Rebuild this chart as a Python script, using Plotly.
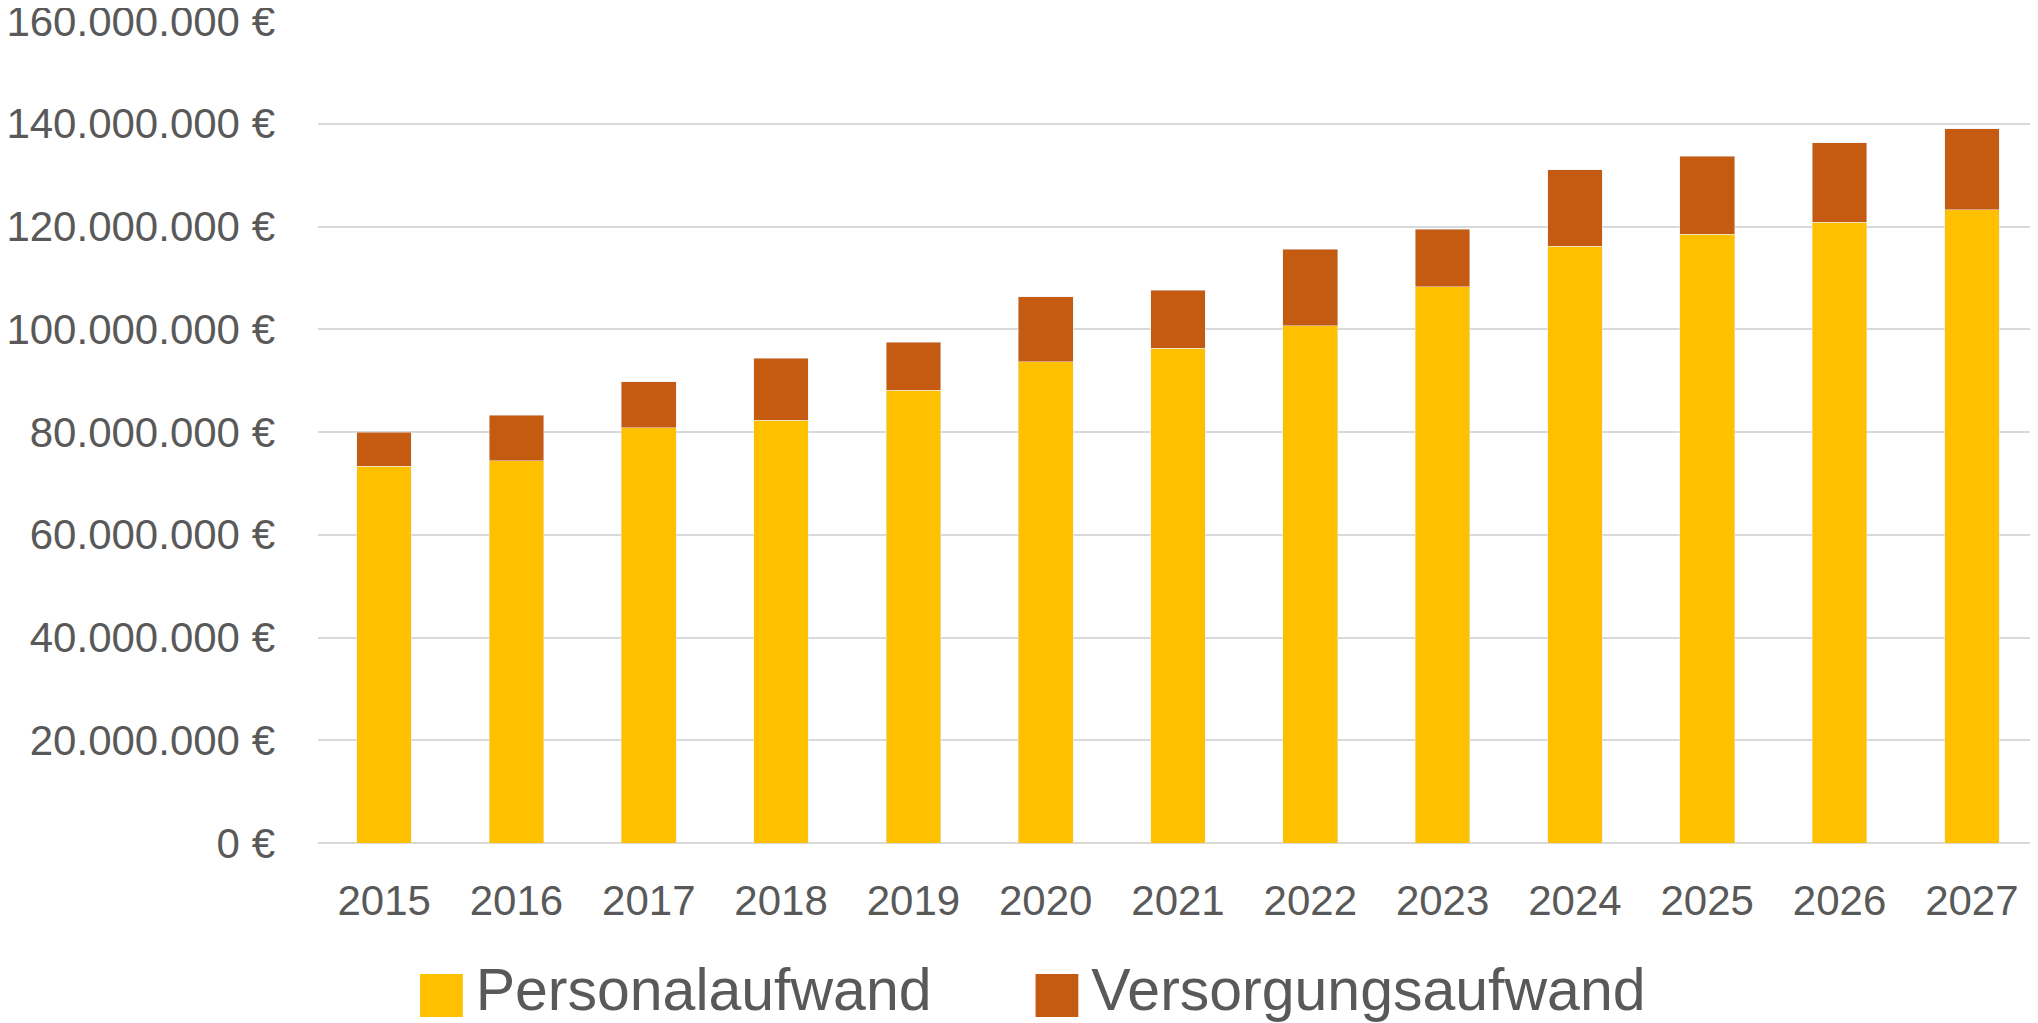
import plotly.graph_objects as go

# Values (in euro)
years = ["2015", "2016", "2017", "2018", "2019", "2020", "2021",
         "2022", "2023", "2024", "2025", "2026", "2027"]
personalaufwand = [73.3e6, 74.4e6, 80.8e6, 82.3e6, 88.1e6, 93.7e6, 96.3e6,
                   100.7e6, 108.3e6, 116.2e6, 118.5e6, 120.8e6, 123.3e6]
versorgungsaufwand = [6.7e6, 8.9e6, 9.0e6, 12.1e6, 9.4e6, 12.6e6, 11.3e6,
                      14.9e6, 11.2e6, 14.8e6, 15.2e6, 15.5e6, 15.7e6]
y_ticks = [0, 20e6, 40e6, 60e6, 80e6, 100e6, 120e6, 140e6, 160e6]
y_labels = [f"{v:,.0f}".replace(",", ".") + " €" for v in y_ticks]

_YELLOW = "#FFC000"
_ORANGE = "#C55A11"
_TEXT = "#595959"
_GRID = "#D9D9D9"
_FONT = "Liberation Sans"


def _legend_name(label, color):
    # big coloured square in front of the text, like the office-style legend
    return (f'<span style="color:{color};font-size:56px;font-family:DejaVu Sans">■</span>'
            f'<span style="font-size:28px"> </span>{label}')


def _legend_box(x):
    return dict(
        orientation="h",
        x=x,
        xanchor="left",
        y=-0.175,
        yanchor="middle",
        font=dict(size=59, color=_TEXT, family=_FONT),
        itemwidth=30,
        bgcolor="rgba(0,0,0,0)",
    )


fig = go.Figure()
fig.add_trace(go.Bar(x=years, y=personalaufwand, name="Personalaufwand",
                     marker_color=_YELLOW, showlegend=False))
fig.add_trace(go.Bar(x=years, y=versorgungsaufwand, name="Versorgungsaufwand",
                     marker_color=_ORANGE, showlegend=False))

# legend-only entries (invisible line symbol, square drawn in the text),
# one legend each so the two entries can sit where the reference has them
for label, color, leg in [("Personalaufwand", _YELLOW, "legend"),
                          ("Versorgungsaufwand", _ORANGE, "legend2")]:
    fig.add_trace(go.Scatter(x=[None], y=[None], mode="lines",
                             line=dict(width=0, color="rgba(0,0,0,0)"),
                             name=_legend_name(label, color), legend=leg,
                             hoverinfo="skip"))

# the page body has an 8px margin, so the figure is sized to fit inside it
fig.update_layout(
    width=2030,
    height=1015,
    autosize=False,
    barmode="stack",
    bargap=0.587,
    plot_bgcolor="white",
    paper_bgcolor="white",
    font=dict(family=_FONT, color=_TEXT, size=42),
    margin=dict(l=310, r=0, t=13, b=180, autoexpand=False),
    legend=_legend_box(0.0331),
    legend2=_legend_box(0.391),
    xaxis=dict(
        showgrid=False,
        showline=False,
        ticks="",
        tickfont=dict(size=42, color=_TEXT),
        ticklabelstandoff=29,
    ),
    yaxis=dict(
        range=[0, 160e6],
        tickvals=y_ticks,
        ticktext=y_labels,
        ticklabeloverflow="allow",
        showgrid=True,
        gridcolor=_GRID,
        gridwidth=2,
        zeroline=True,
        zerolinecolor=_GRID,
        zerolinewidth=2,
        showline=False,
        ticks="",
        tickfont=dict(size=42, color=_TEXT),
        ticklabelstandoff=42,
    ),
)

fig.write_html("out.html")
